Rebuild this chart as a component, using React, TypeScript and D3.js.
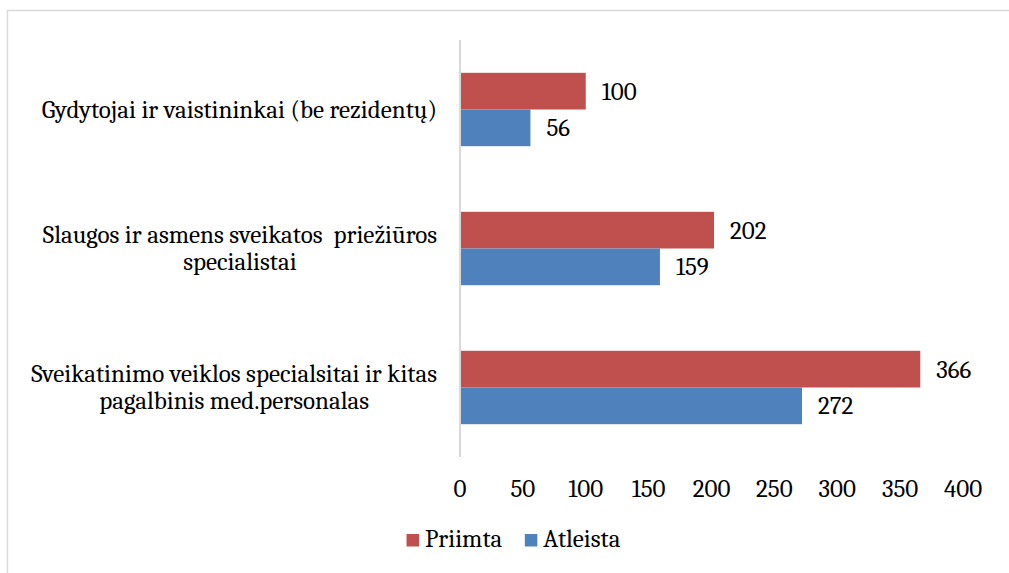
import React, { useEffect, useRef } from "react";
import * as d3 from "d3";

const categoryLines: string[][] = [
  ["Gydytojai ir vaistininkai (be rezidentų)"],
  ["Slaugos ir asmens sveikatos  priežiūros", "specialistai"],
  ["Sveikatinimo veiklos specialsitai ir kitas", "pagalbinis med.personalas"],
];
const categories = ["Gydytojai", "Slaugos", "Sveikatinimo"];
const seriesNames = ["Priimta", "Atleista"];
const priimta = [100, 202, 366];
const atleista = [56, 159, 272];
const xTicks = [0, 50, 100, 150, 200, 250, 300, 350, 400];
const seriesColors = ["#C0504D", "#4F81BD"];

const W = 1009;
const H = 573;
const FONT = "Caladea, Cambria, 'Liberation Serif', serif";
const FS = 25;

export default function App() {
  const ref = useRef<SVGSVGElement | null>(null);

  useEffect(() => {
    const svg = d3.select(ref.current);
    svg.selectAll("*").remove();

    const x = d3.scaleLinear().domain([0, 400]).range([460, 963]);
    const y = d3
      .scaleBand<string>()
      .domain(categories)
      .range([40, 457])
      .paddingInner(0.472)
      .paddingOuter(0.236);
    const ys = d3.scaleBand<string>().domain(seriesNames).range([0, y.bandwidth()]);
    const seriesValues = [priimta, atleista];

    // frame
    svg.append("rect")
      .attr("x", 7.5).attr("y", 10.5)
      .attr("width", W + 20).attr("height", H + 20)
      .attr("fill", "none").attr("stroke", "#d9d9d9").attr("stroke-width", 1.5);

    // bars
    seriesNames.forEach((s, si) => {
      svg.append("g").selectAll("rect")
        .data(seriesValues[si])
        .join("rect")
        .attr("x", x(0))
        .attr("y", (_d, i) => (y(categories[i]) as number) + (ys(s) as number))
        .attr("width", (d) => x(d) - x(0))
        .attr("height", ys.bandwidth())
        .attr("fill", seriesColors[si]);

      svg.append("g").selectAll("text")
        .data(seriesValues[si])
        .join("text")
        .attr("x", (d) => x(d) + 16)
        .attr("y", (_d, i) => (y(categories[i]) as number) + (ys(s) as number) + ys.bandwidth() / 2 + 8.5)
        .attr("font-family", FONT)
        .attr("font-size", FS)
        .attr("fill", "#000")
        .text((d) => String(d));
    });

    // axis line
    svg.append("line")
      .attr("x1", x(0)).attr("x2", x(0))
      .attr("y1", 40).attr("y2", 457)
      .attr("stroke", "#d9d9d9").attr("stroke-width", 2);

    // tick labels
    svg.append("g").selectAll("text")
      .data(xTicks)
      .join("text")
      .attr("x", (d) => x(d))
      .attr("y", 497)
      .attr("text-anchor", "middle")
      .attr("font-family", FONT)
      .attr("font-size", FS)
      .text((d) => String(d));

    // category labels
    categories.forEach((c, ci) => {
      const lines = categoryLines[ci];
      const g = svg.append("g");
      const texts = lines.map((l) =>
        g.append("text")
          .attr("font-family", FONT)
          .attr("font-size", FS)
          .style("white-space", "pre")
          .attr("text-anchor", "middle")
          .text(l)
      );
      const maxW = Math.max(...texts.map((t) => (t.node() as SVGTextElement).getComputedTextLength()));
      const center = (y(c) as number) + y.bandwidth() / 2;
      const cx = 437 - maxW / 2;
      texts.forEach((t, i) => {
        t.attr("x", cx).attr("y", center + 8 + (i - (lines.length - 1) / 2) * 27.5);
      });
    });

    // legend
    const lg = svg.append("g");
    let cursor = 0;
    const items: { sx: number; tx: number }[] = [];
    const legendTexts = seriesNames.map((s) =>
      lg.append("text").attr("font-family", FONT).attr("font-size", FS).attr("y", 547).text(s)
    );
    seriesNames.forEach((_s, i) => {
      const tw = (legendTexts[i].node() as SVGTextElement).getComputedTextLength();
      items.push({ sx: cursor, tx: cursor + 18.5 });
      cursor += 18.5 + tw + (i < seriesNames.length - 1 ? 22.5 : 0);
    });
    const offset = 513.5 - cursor / 2;
    seriesNames.forEach((_s, i) => {
      lg.append("rect")
        .attr("x", offset + items[i].sx).attr("y", 534)
        .attr("width", 12.5).attr("height", 12.5)
        .attr("fill", seriesColors[i]);
      legendTexts[i].attr("x", offset + items[i].tx);
    });
  }, []);

  return (
    <svg
      ref={ref}
      width={W}
      height={H}
      style={{ position: "absolute", left: 0, top: 0, background: "#fff" }}
    />
  );
}
